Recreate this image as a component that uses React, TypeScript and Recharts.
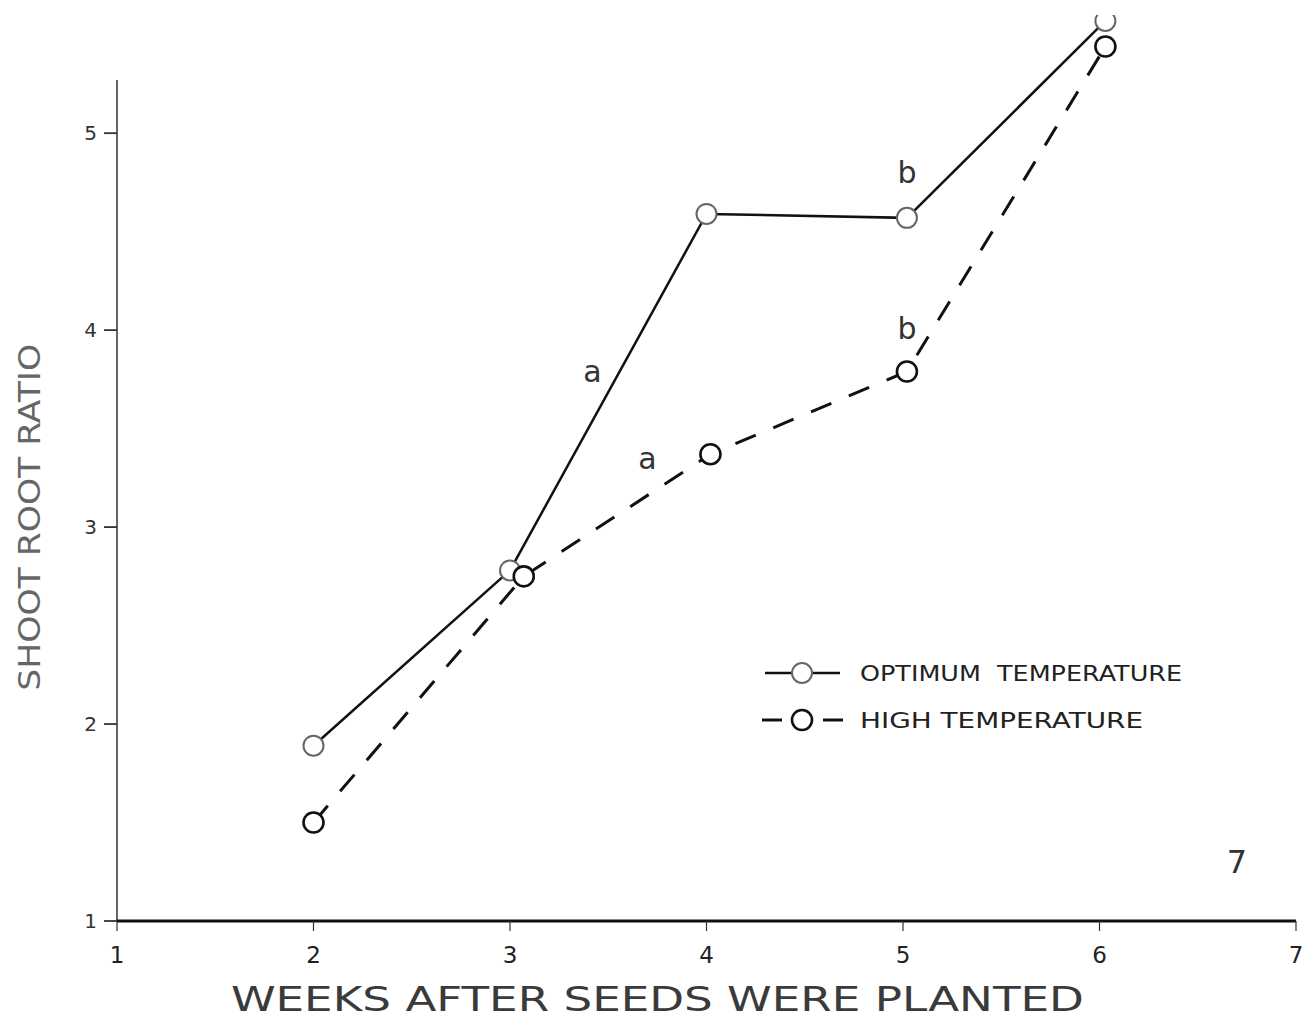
import React from 'react';
import { LineChart, Line, XAxis, YAxis, ReferenceLine, ReferenceDot, Legend } from 'recharts';

// Shoot:root ratio by week, optimum vs high temperature
const weeksOptimum = [2, 3, 4, 5.02, 6.03];
const ratioOptimum = [1.89, 2.78, 4.59, 4.57, 5.57];
const weeksHigh = [2, 3.07, 4.02, 5.02, 6.03];
const ratioHigh = [1.5, 2.75, 3.37, 3.79, 5.44];

const xTicks = [1, 2, 3, 4, 5, 6, 7];
const yTicks = [1, 2, 3, 4, 5];
const seriesNames = ['OPTIMUM  TEMPERATURE', 'HIGH TEMPERATURE'];

// significance letters, placed in data units
const noteText = ['a', 'a', 'b', 'b'];
const noteWeek = [3.42, 3.7, 5.02, 5.02];
const noteRatio = [3.79, 3.35, 4.8, 4.01];

const optimumData = weeksOptimum.map((w, i) => ({ week: w, ratio: ratioOptimum[i] }));
const highData = weeksHigh.map((w, i) => ({ week: w, ratio: ratioHigh[i] }));

const FONT = '"DejaVu Sans", "Liberation Sans", sans-serif';

const centerOf = (vb: any) => ({ cx: vb.x + vb.width / 2, cy: vb.y + vb.height / 2 });

const renderXTick = (props: any) => {
  const { x, y, payload } = props;
  return (
    <text x={x} y={y} dy={20} textAnchor="middle" style={{ fontSize: 23, fontFamily: FONT }} fill="#222">
      {payload.value}
    </text>
  );
};

const renderYTick = (props: any) => {
  const { x, y, payload } = props;
  return (
    <text x={x} y={y} dy={7} textAnchor="end" style={{ fontSize: 20, fontFamily: FONT }} fill="#333">
      {payload.value}
    </text>
  );
};

const YTitle = (props: any) => {
  const { cx, cy } = centerOf(props.viewBox);
  return (
    <text
      x={cx}
      y={cy}
      transform={`rotate(-90 ${cx} ${cy})`}
      textAnchor="middle"
      dominantBaseline="central"
      fontSize={30}
      fontFamily={FONT}
      textLength={347}
      lengthAdjust="spacingAndGlyphs"
      fill="#666"
    >
      SHOOT ROOT RATIO
    </text>
  );
};

const XTitle = (props: any) => {
  const { cx, cy } = centerOf(props.viewBox);
  return (
    <text
      x={cx}
      y={cy}
      textAnchor="middle"
      dominantBaseline="central"
      fontSize={33}
      fontFamily={FONT}
      textLength={853}
      lengthAdjust="spacingAndGlyphs"
      fill="#3a3a3a"
    >
      WEEKS AFTER SEEDS WERE PLANTED
    </text>
  );
};

const noteLabel = (text: string, size: number) => (props: any) => {
  const { cx, cy } = centerOf(props.viewBox);
  return (
    <text
      x={cx}
      y={cy}
      textAnchor="middle"
      dominantBaseline="central"
      fontSize={size}
      fontFamily={FONT}
      fill="#333"
    >
      {text}
    </text>
  );
};

const LegendBox = () => (
  <svg width={470} height={95}>
    {/* optimum: solid line through an open circle */}
    <line x1={15} y1={23} x2={42} y2={23} stroke="#111" strokeWidth={2.5} />
    <line x1={61} y1={23} x2={90} y2={23} stroke="#111" strokeWidth={2.5} />
    <circle cx={52} cy={23} r={10} fill="#fff" stroke="#666" strokeWidth={2} />
    <text x={110} y={31} fontSize={21} fontFamily={FONT} fill="#222" textLength={322} lengthAdjust="spacingAndGlyphs" style={{ whiteSpace: 'pre' }}>
      {seriesNames[0]}
    </text>
    {/* high: dashed line through an open circle */}
    <line x1={12} y1={70} x2={32} y2={70} stroke="#111" strokeWidth={3} />
    <line x1={73} y1={70} x2={93} y2={70} stroke="#111" strokeWidth={3} />
    <circle cx={52} cy={70} r={10} fill="#fff" stroke="#111" strokeWidth={2.6} />
    <text x={110} y={78} fontSize={21} fontFamily={FONT} fill="#222" textLength={283} lengthAdjust="spacingAndGlyphs">
      {seriesNames[1]}
    </text>
  </svg>
);

export default function App() {
  return (
    <div style={{ position: 'absolute', left: 0, top: 0, width: 1314, height: 1022, background: '#fff' }}>
      <LineChart width={1314} height={1022} margin={{ top: 15, right: 18, left: 37, bottom: 61 }}>
        <XAxis
          dataKey="week"
          type="number"
          domain={[1, 7]}
          ticks={xTicks}
          allowDataOverflow
          height={40}
          axisLine={{ stroke: '#111', strokeWidth: 3 }}
          tickLine={{ stroke: '#333', strokeWidth: 1.2 }}
          tickSize={10}
          tickMargin={12}
          tick={renderXTick}
        />
        <YAxis
          dataKey="ratio"
          type="number"
          domain={[1, 5.6]}
          ticks={yTicks}
          allowDataOverflow
          width={80}
          axisLine={false}
          tickLine={{ stroke: '#333', strokeWidth: 1.8 }}
          tickSize={13}
          tickMargin={7}
          tick={renderYTick}
        />
        <ReferenceLine
          segment={[{ x: 1, y: 1 }, { x: 1, y: 5.27 }]}
          stroke="#333"
          strokeWidth={1.5}
          ifOverflow="visible"
        />
        <Line
          data={optimumData}
          dataKey="ratio"
          name={seriesNames[0]}
          type="linear"
          stroke="#111"
          strokeWidth={2.5}
          dot={{ r: 10, fill: '#fff', stroke: '#666', strokeWidth: 2 }}
          activeDot={false}
          isAnimationActive={false}
        />
        <Line
          data={highData}
          dataKey="ratio"
          name={seriesNames[1]}
          type="linear"
          stroke="#111"
          strokeWidth={3}
          strokeDasharray="22 19"
          dot={{ r: 10, fill: '#fff', stroke: '#111', strokeWidth: 2.6, strokeDasharray: 'none' }}
          activeDot={false}
          isAnimationActive={false}
        />
        {noteText.map((t, i) => (
          <ReferenceDot
            key={i}
            x={noteWeek[i]}
            y={noteRatio[i]}
            r={1}
            fill="none"
            stroke="none"
            ifOverflow="visible"
            label={{ content: noteLabel(t, 30) }}
          />
        ))}
        <ReferenceDot x={6.7} y={1.3} r={1} fill="none" stroke="none" ifOverflow="visible" label={{ content: noteLabel('7', 32) }} />
        <ReferenceDot x={0.557} y={3.05} r={1} fill="none" stroke="none" ifOverflow="visible" label={{ content: YTitle }} />
        <ReferenceDot x={3.75} y={0.6} r={1} fill="none" stroke="none" ifOverflow="visible" label={{ content: XTitle }} />
        <Legend
          layout="vertical"
          align="center"
          verticalAlign="middle"
          wrapperStyle={{ left: 750, top: 650, width: 470 }}
          content={() => <LegendBox />}
        />
      </LineChart>
    </div>
  );
}
